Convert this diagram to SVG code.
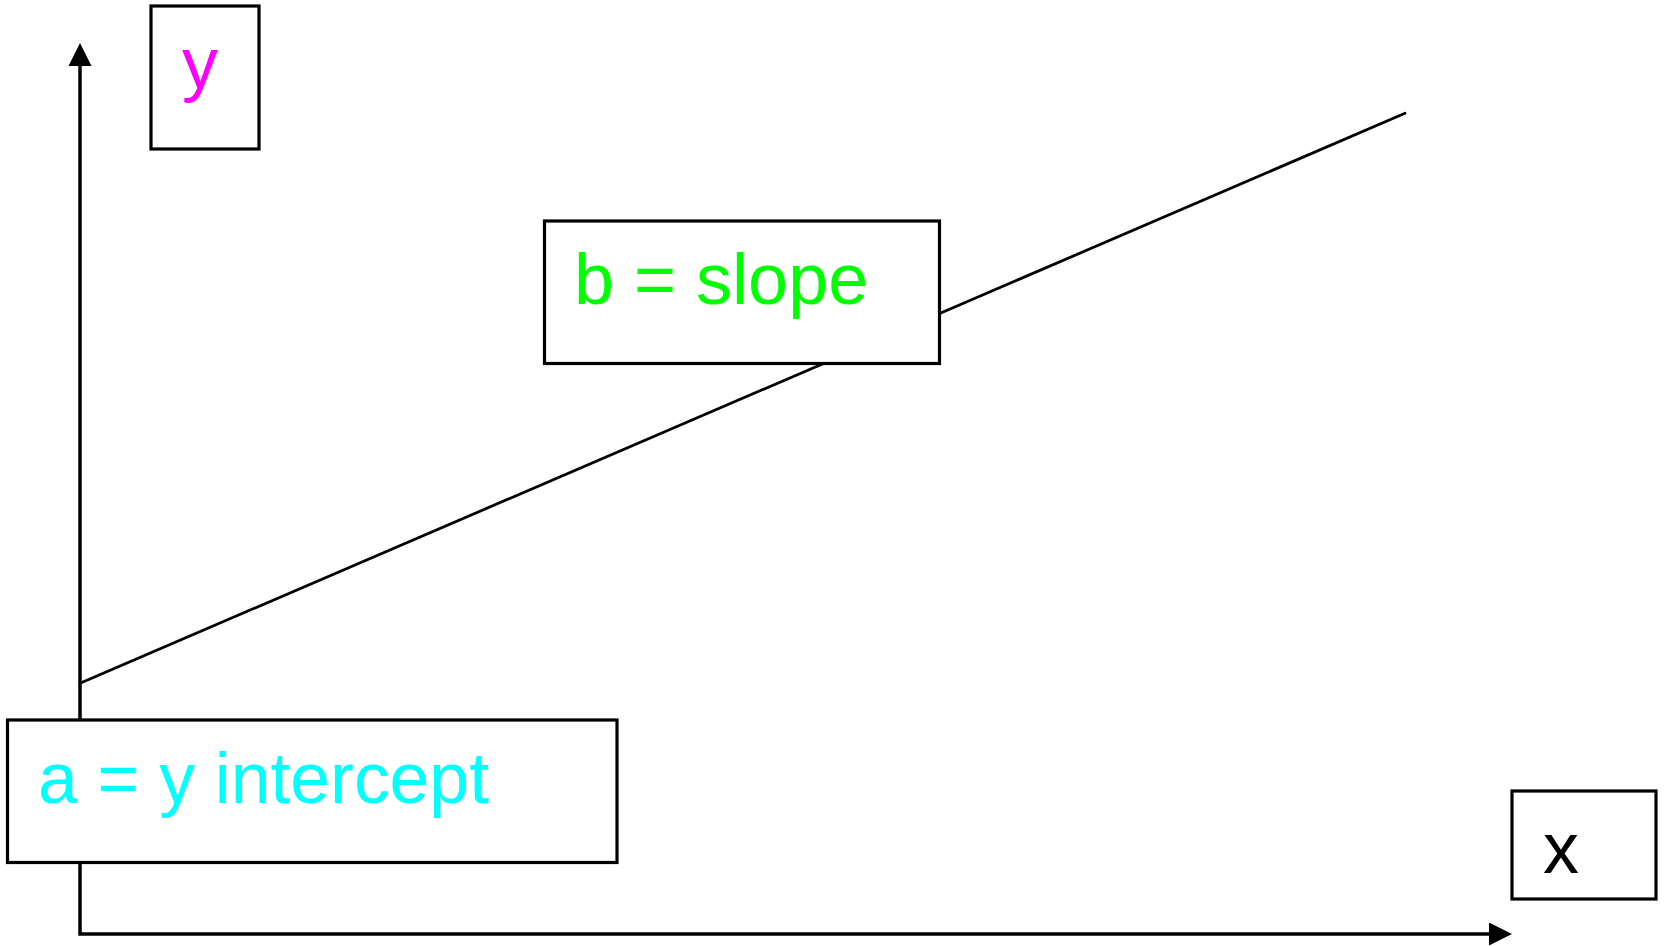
<svg xmlns="http://www.w3.org/2000/svg" width="1665" height="946" viewBox="0 0 1665 946">
  <style>
    .box { fill: #ffffff; stroke: #000000; stroke-width: 3.2; }
    .axis { fill: none; stroke: #000000; stroke-width: 3.5; stroke-linejoin: miter; }
    .fit { fill: none; stroke: #000000; stroke-width: 2.8; stroke-linecap: round; }
    .lbl { font-family: "Liberation Sans", Arial, sans-serif; font-size: 72px; }
  </style>
  <defs>
    <marker id="arrow" viewBox="0 0 23 23" refX="0" refY="11.5" markerWidth="23" markerHeight="23" markerUnits="userSpaceOnUse" orient="auto-start-reverse">
      <path d="M0,0 L23,11.5 L0,23 Z" fill="#000000"/>
    </marker>
  </defs>

  <!-- axes (one polyline, arrow at both ends) and the fitted line -->
  <g id="connectors">
    <path class="axis" d="M80,66 L80,934 L1489,934" marker-start="url(#arrow)" marker-end="url(#arrow)"/>
    <path class="fit" d="M80,683.3 L1405,113.3"/>
  </g>

  <g id="y-label">
    <rect class="box" x="151" y="6" width="108" height="143"/>
    <text class="lbl" x="182" y="88" fill="#ff00ff">y</text>
  </g>

  <g id="slope-label">
    <rect class="box" x="544.5" y="221" width="395" height="142.5"/>
    <text class="lbl" x="574" y="303.5" fill="#00ff00">b = slope</text>
  </g>

  <g id="intercept-label">
    <rect class="box" x="7.5" y="720" width="609.5" height="142.5"/>
    <text class="lbl" x="38" y="802.5" fill="#00ffff" textLength="451" lengthAdjust="spacingAndGlyphs">a = y intercept</text>
  </g>

  <g id="x-label">
    <rect class="box" x="1512" y="791" width="144" height="108"/>
    <text class="lbl" x="1543" y="873" fill="#000000">x</text>
  </g>
</svg>
